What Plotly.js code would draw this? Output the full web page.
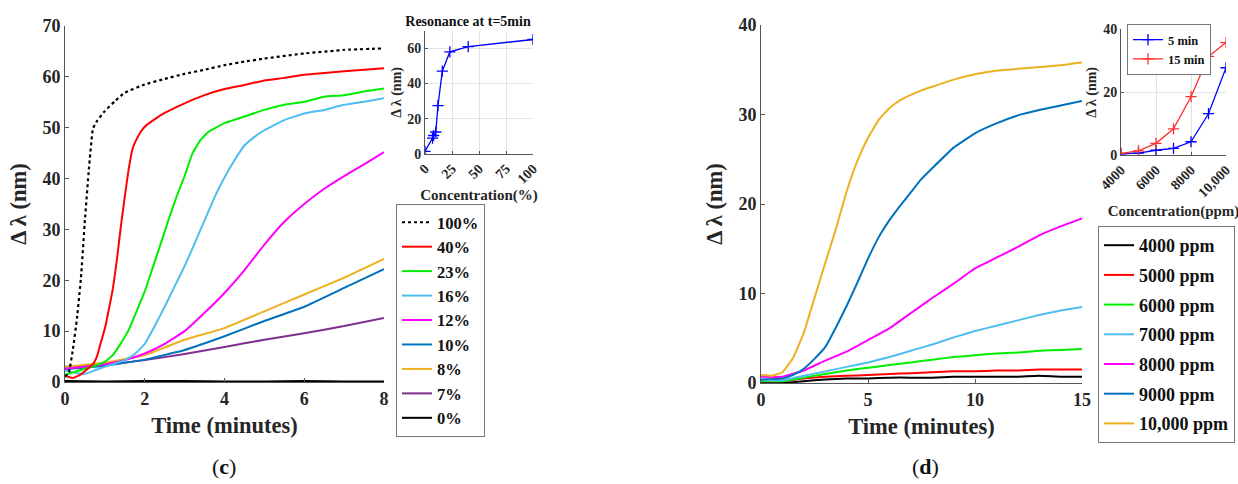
<!DOCTYPE html>
<html>
<head>
<meta charset="utf-8">
<script src="https://cdn.plot.ly/plotly-3.0.1.min.js"></script>
<style>html,body{margin:0;padding:0;background:#fff;}#chart{width:1238px;height:484px;}</style>
</head>
<body>
<div id="chart"></div>
<script>
// ---------- Panel (c): main curves ----------
const cLabels = ["100%","40%","23%","16%","12%","10%","8%","7%","0%"];
const cColors = ["#000000","#ff0000","#00ee00","#4dbeee","#ff00ff","#0072bd","#edb120","#7e2f8e","#000000"];

const t100 = [0,0.1,0.2,0.3,0.4,0.5,0.6,0.7,0.8,1.0,1.25,1.5,2,2.5,3,3.5,4,4.5,5,6,7,8];
const v100 = [1.0,2.0,6.5,12.5,20.5,31.9,42,49.8,51.3,53.3,55.2,56.9,58.5,59.6,60.6,61.4,62.3,63,63.6,64.6,65.3,65.6];

const t40 = [0,0.2,0.4,0.6,0.7,0.8,0.9,1.0,1.1,1.2,1.3,1.4,1.5,1.6,1.7,1.8,1.9,2.0,2.2,2.5,3,3.5,4,4.5,5,5.5,6,7,8];
const v40 = [1.2,0.8,1.5,2.8,3.5,5.0,7.8,10.5,14.3,18.3,24,30.5,36.5,42,46,47.8,49.2,50.2,51.4,52.9,54.8,56.4,57.6,58.4,59.3,59.8,60.4,61.1,61.7];

const t23 = [0,0.25,0.5,0.75,1,1.2,1.4,1.6,1.8,2,2.2,2.4,2.6,2.8,3,3.2,3.4,3.6,4,4.5,5,5.5,6,6.5,7,7.5,8];
const v23 = [1.4,2.0,2.6,3.2,4.0,5.3,7.6,10.3,14.0,17.8,22.5,27.2,32,36.5,40.5,45,47.6,49.2,50.9,52.2,53.5,54.5,55.1,56.1,56.4,57.1,57.7];

const t16 = [0,0.25,0.5,0.75,1,1.25,1.5,1.75,2,2.25,2.5,2.75,3,3.25,3.5,3.75,4,4.25,4.5,4.75,5,5.5,6,6.5,7,7.5,8];
const v16 = [2.2,1.8,1.6,2.3,3.0,3.6,4.3,5.5,7.5,11.0,14.8,18.8,22.8,27.2,31.8,36.3,40.2,43.6,46.5,48.2,49.5,51.5,52.8,53.5,54.5,55.1,55.8];

const t12 = [0,0.5,1,1.5,2,2.5,3,3.5,4,4.5,5,5.5,6,6.5,7,7.5,8];
const v12 = [2.6,3.0,3.5,4.3,5.6,7.5,10,13.6,17.5,22,27,31.5,35,38,40.5,42.8,45.2];

const tLow = [0,1,2,3,4,5,6,7,8];
const v10 = [2.5,3.2,4.4,6.3,9.0,12.0,14.8,18.5,22.2];
const v8  = [3.0,3.8,5.3,8.3,10.6,13.9,17.2,20.5,24.2];
const v7  = [3.0,3.4,4.3,5.5,6.9,8.3,9.6,11.0,12.6];
const v0  = [0.2,0.1,0.2,0.2,0.1,0.1,0.2,0.1,0.1];

// ---------- Panel (c): inset, resonance at t=5 min ----------
const concPct = [0,7,8,10,12,16,23,40,100];
const res5min = [1.5,9,10.5,12.5,27.5,47,58,61,65];

// ---------- Panel (d): main curves ----------
const dLabels = ["4000 ppm","5000 ppm","6000 ppm","7000 ppm","8000 ppm","9000 ppm","10,000 ppm"];
const dColors = ["#000000","#ff0000","#00ee00","#4dbeee","#ff00ff","#0072bd","#edb120"];

const tD = [0,1,2,3,4,5,6,7,8,9,10,11,12,13,14,15];
const v4000 = [0.0,0.0,0.2,0.4,0.5,0.5,0.6,0.6,0.6,0.7,0.7,0.7,0.7,0.8,0.7,0.7];
const v5000 = [0.2,0.2,0.5,0.7,0.8,0.9,1.0,1.1,1.2,1.3,1.3,1.4,1.4,1.5,1.5,1.5];
const v6000 = [0.2,0.2,0.6,1.0,1.4,1.7,2.0,2.3,2.6,2.9,3.1,3.3,3.4,3.6,3.7,3.8];
const v7000 = [0.3,0.3,0.8,1.3,1.8,2.3,2.9,3.6,4.3,5.1,5.8,6.4,7.0,7.6,8.1,8.5];
const v8000 = [0.7,0.7,1.4,2.5,3.5,4.8,6.1,7.8,9.5,11.1,12.8,14.0,15.2,16.5,17.5,18.4];

const t9000 = [0,1,1.5,2,2.5,3,3.5,4,4.5,5,5.5,6,6.5,7,7.5,8,9,10,11,12,13,14,15];
const v9000 = [0.4,0.5,0.9,1.6,2.7,4.0,6.2,8.6,11.2,13.9,16.3,18.2,19.8,21.3,22.8,24.0,26.3,27.9,29.0,29.9,30.5,31.0,31.5];

const t10000 = [0,0.5,1,1.5,2,2.5,3,3.5,4,4.5,5,5.5,6,6.5,7,7.5,8,9,10,11,12,13,14,15];
const v10000 = [0.9,0.8,1.2,2.8,5.6,9.5,13.4,17.2,21.4,24.8,27.4,29.4,30.7,31.6,32.2,32.7,33.1,33.9,34.5,34.9,35.1,35.3,35.5,35.8];

// ---------- Panel (d): inset ----------
const concPpm = [4000,5000,6000,7000,8000,9000,10000];
const at5min  = [0.5,0.7,1.6,2.2,4.3,13.2,27.8];
const at15min = [0.6,1.4,3.8,8.4,18.6,31.4,35.8];
const ppmTickVals = [4000,6000,8000,10000];
const ppmTickText = ["4000","6000","8000","10,000"];

// ---------- build ----------
const FONT = "Liberation Serif, Times New Roman, serif";
const TXT = "#262626";
const W = 1238, H = 484;
const px = x => x / W;
const py = y => 1 - y / H;

const cX = [t100,t40,t23,t16,t12,tLow,tLow,tLow,tLow];
const cY = [v100,v40,v23,v16,v12,v10,v8,v7,v0];
const traces = [];
for (let i = cLabels.length - 1; i >= 0; i--) {
  traces.push({
    x: cX[i], y: cY[i], type: "scatter", mode: "lines", name: cLabels[i],
    xaxis: "x", yaxis: "y", legend: "legend", legendrank: i + 1,
    line: {color: cColors[i], width: i === 0 ? 2.2 : 2, dash: i === 0 ? "dot" : "solid", shape: "spline", smoothing: 0.3}
  });
}
traces.push({
  x: concPct, y: res5min, type: "scatter", mode: "lines+markers", showlegend: false,
  xaxis: "x2", yaxis: "y2",
  line: {color: "#0000ff", width: 1.3},
  marker: {symbol: "cross-thin", size: 8, line: {color: "#0000ff", width: 1.3}}
});
const dX = [tD,tD,tD,tD,tD,t9000,t10000];
const dY = [v4000,v5000,v6000,v7000,v8000,v9000,v10000];
for (let i = 0; i < dLabels.length; i++) {
  traces.push({
    x: dX[i], y: dY[i], type: "scatter", mode: "lines", name: dLabels[i],
    xaxis: "x3", yaxis: "y3", legend: "legend2", legendrank: i + 1, legendgroup: "d" + i,
    line: {color: dColors[i], width: 2, shape: "spline", smoothing: 0.3}
  });
}
traces.push({
  x: concPpm, y: at5min, type: "scatter", mode: "lines+markers", name: "5 min",
  xaxis: "x4", yaxis: "y4", legend: "legend3",
  line: {color: "#0000ff", width: 1.3},
  marker: {symbol: "cross-thin", size: 8, line: {color: "#0000ff", width: 1.3}}
});
traces.push({
  x: concPpm, y: at15min, type: "scatter", mode: "lines+markers", name: "15 min",
  xaxis: "x4", yaxis: "y4", legend: "legend3",
  line: {color: "#ff3030", width: 1.3},
  marker: {symbol: "cross-thin", size: 8, line: {color: "#ff3030", width: 1.3}}
});

function mainAxis(domain, range, dtick, titleText, standoff, anchor) {
  return {
    domain: domain, range: range, dtick: dtick, anchor: anchor,
    showgrid: false, zeroline: false, showline: true, linecolor: "#555", linewidth: 1,
    ticks: "inside", ticklen: 4, tickcolor: "#555",
    tickfont: {family: FONT, size: 18, color: TXT, weight: "bold"},
    title: {text: titleText, standoff: standoff, font: {family: FONT, size: 22.5, color: TXT, weight: "bold"}}
  };
}
function insetAxis(domain, range, titleText, standoff, anchor, extra, tfs) {
  return Object.assign({
    domain: domain, range: range, anchor: anchor,
    showgrid: true, gridcolor: "#e3e3e3", gridwidth: 1, zeroline: false,
    showline: true, linecolor: "#555", linewidth: 1,
    ticks: "inside", ticklen: 3, tickcolor: "#555",
    tickfont: {family: FONT, size: 14, color: TXT, weight: "bold"},
    title: {text: titleText, standoff: standoff, font: {family: FONT, size: tfs || 14, color: TXT, weight: "bold"}}
  }, extra || {});
}

const layout = {
  width: W, height: H,
  margin: {l: 0, r: 0, t: 0, b: 0},
  paper_bgcolor: "#fff", plot_bgcolor: "rgba(0,0,0,0)",
  font: {family: FONT, color: TXT},
  title: {text: "Resonance at t=5min", x: px(468), y: py(21), xanchor: "center", yanchor: "middle",
          font: {family: FONT, size: 14, color: "#111", weight: "bold"}},
  xaxis:  mainAxis([px(65), px(384)], [0, 8], 2, "Time (minutes)", 9, "y"),
  yaxis:  mainAxis([py(382), py(26)], [0, 70], 10, "Δ λ (nm)", 9, "x"),
  xaxis3: mainAxis([px(761), px(1082)], [0, 15], 5, "Time (minutes)", 9, "y3"),
  yaxis3: mainAxis([py(383), py(25)], [0, 40], 10, "Δ λ (nm)", 9, "x3"),
  xaxis2: insetAxis([px(425), px(533)], [0, 100], "Concentration(%)", 2, "y2", {tickvals: [0,25,50,75,100], tickangle: -45}, 15),
  yaxis2: insetAxis([py(154), py(30.7)], [0, 70], "Δ λ (nm)", 2, "x2", {tickvals: [0,20,40,60]}),
  xaxis4: insetAxis([px(1121), px(1226)], [4000, 10000], "Concentration(ppm)", 6, "y4", {tickvals: ppmTickVals, ticktext: ppmTickText, tickangle: -45}, 15),
  yaxis4: insetAxis([py(155.3), py(29.3)], [0, 40], "Δ λ (nm)", 3, "x4", {tickvals: [0,20,40]}),
  legend: {
    x: px(396), y: py(204), xanchor: "left", yanchor: "top",
    bgcolor: "#fff", bordercolor: "#777", borderwidth: 1,
    font: {family: FONT, size: 16.5, color: "#111", weight: "bold"},
    itemwidth: 30, traceorder: "normal", tracegroupgap: 0
  },
  legend2: {
    x: px(1098), y: py(226), xanchor: "left", yanchor: "top",
    bgcolor: "#fff", bordercolor: "#777", borderwidth: 1,
    font: {family: FONT, size: 18, color: "#111", weight: "bold"},
    itemwidth: 30, traceorder: "grouped", tracegroupgap: 3.3
  },
  legend3: {
    x: px(1127), y: py(24), xanchor: "left", yanchor: "top",
    bgcolor: "#fff", bordercolor: "#777", borderwidth: 1,
    font: {family: FONT, size: 12.5, color: "#111", weight: "bold"},
    itemwidth: 30, traceorder: "normal"
  },
  annotations: [
    {text: "(<b>c</b>)", x: px(224), y: py(466), xref: "paper", yref: "paper", showarrow: false,
     xanchor: "center", yanchor: "middle", font: {family: FONT, size: 22, color: "#111"}},
    {text: "(<b>d</b>)", x: px(925), y: py(466), xref: "paper", yref: "paper", showarrow: false,
     xanchor: "center", yanchor: "middle", font: {family: FONT, size: 22, color: "#111"}}
  ],
  showlegend: true
};

Plotly.newPlot("chart", traces, layout, {staticPlot: true, displayModeBar: false});
</script>
</body>
</html>
